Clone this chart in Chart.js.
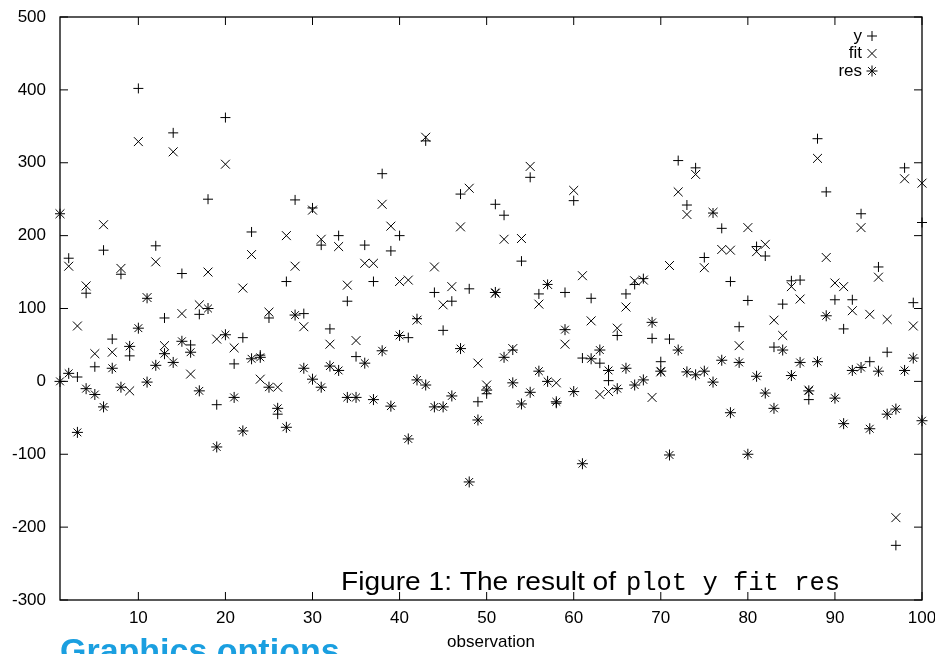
<!DOCTYPE html>
<html>
<head>
<meta charset="utf-8">
<script src="https://cdn.jsdelivr.net/npm/chart.js@4.4.0/dist/chart.umd.min.js"></script>
<style>
    body { margin: 0; background: #fff; }
    #wrap { width: 935px; height: 654px; position: relative; }
</style>
</head>
<body>
<div id="wrap"><canvas id="myChart"></canvas></div>
<script>
// values, observation 1..100
var yValues = [230, 169, 6, 121, 20, 180, 58, 147, 35, 402,
    114, 186, 87, 341, 148, 50, 92, 250, -32, 362,
    24, 60, 205, 36, 87, -45, 137, 249, 93, 238,
    187, 72, 200, 110, 34, 187, 137, 285, 179, 200,
    60, 86, 330, 122, 70, 110, 257, 127, -28, -17,
    243, 228, 43, 165, 280, 120, 133, -30, 122, 248,
    32, 114, 25, 1, 63, 120, 133, 141, 59, 27,
    58, 303, 242, 293, 170, 231, 210, 137, 75, 111,
    185, 172, 47, 106, 138, 139, -25, 333, 260, 112,
    72, 112, 230, 27, 157, 40, -225, 293, 108, 218];
var fitValues = [230, 158, 76, 131, 38, 215, 40, 155, -13, 329,
    115, 164, 49, 315, 93, 10, 105, 150, 58, 298,
    46, 128, 174, 3, 95, -8, 200, 158, 75, 235,
    195, 51, 185, 132, 56, 162, 162, 243, 213, 137,
    139, 84, 335, 157, 105, 130, 212, 265, 25, -5,
    121, 195, 45, 196, 295, 106, 133, -2, 51, 262,
    145, 83, -18, -14, 73, 102, 138, 139, -22, 13,
    159, 260, 229, 284, 156, 232, 181, 180, 49, 211,
    178, 188, 84, 63, 130, 113, -12, 306, 170, 135,
    130, 97, 211, 92, 143, 85, -187, 278, 76, 272];
var resValues = [0, 11, -70, -10, -18, -35, 18, -8, 48, 73,
    -1, 22, 38, 26, 55, 40, -13, 100, -90, 64,
    -22, -68, 31, 33, -8, -37, -63, 91, 18, 3,
    -8, 21, 15, -22, -22, 25, -25, 42, -34, 63,
    -79, 2, -5, -35, -35, -20, 45, -138, -53, -12,
    122, 33, -2, -31, -15, 14, 0, -28, 71, -14,
    -113, 31, 43, 15, -10, 18, -5, 2, 81, 14,
    -101, 43, 13, 9, 14, -1, 29, -43, 26, -100,
    7, -16, -37, 43, 8, 26, -13, 27, 90, -23,
    -58, 15, 19, -65, 14, -45, -38, 15, 32, -54];
var seriesNames = ["y", "fit", "res"];
var xTicks = [10, 20, 30, 40, 50, 60, 70, 80, 90, 100];
var yTicks = [-300, -200, -100, 0, 100, 200, 300, 400, 500];
var xTitle = "observation";
var captionText = "Figure 1: The result of";
var captionCode = "plot y fit res";
var headingText = "Graphics options";

function toPoints(values) {
    var pts = [];
    for (var i = 0; i < values.length; i++) {
        pts.push({ x: i + 1, y: values[i] });
    }
    return pts;
}

function drawMarker(ctx, ds, x, y) {
    if (Chart.helpers && Chart.helpers.drawPoint) {
        Chart.helpers.drawPoint(ctx, {
            pointStyle: ds.pointStyle,
            radius: ds.pointRadius,
            rotation: 0,
            borderWidth: 1
        }, x, y);
    }
}

var gnuplotFrame = {
    id: 'gnuplotFrame',
    afterDraw: function (chart) {
        var ctx = chart.ctx;
        var a = chart.chartArea;
        var sx = chart.scales.x;
        var sy = chart.scales.y;
        ctx.save();
        ctx.strokeStyle = '#000';
        ctx.fillStyle = '#000';
        ctx.lineWidth = 1.3;
        ctx.strokeRect(a.left, a.top, a.right - a.left, a.bottom - a.top);

        // inward ticks, mirrored on top and right
        ctx.lineWidth = 1;
        ctx.beginPath();
        yTicks.forEach(function (v) {
            var p = sy.getPixelForValue(v);
            ctx.moveTo(a.left, p); ctx.lineTo(a.left + 8, p);
            ctx.moveTo(a.right, p); ctx.lineTo(a.right - 8, p);
        });
        xTicks.forEach(function (v) {
            var p = sx.getPixelForValue(v);
            ctx.moveTo(p, a.bottom); ctx.lineTo(p, a.bottom - 8);
            ctx.moveTo(p, a.top); ctx.lineTo(p, a.top + 8);
        });
        ctx.stroke();

        ctx.font = '17px "Liberation Sans", Arial, sans-serif';
        ctx.textAlign = 'right';
        ctx.textBaseline = 'middle';
        yTicks.forEach(function (v) {
            ctx.fillText(String(v), a.left - 14, sy.getPixelForValue(v));
        });
        ctx.textAlign = 'center';
        xTicks.forEach(function (v) {
            ctx.fillText(String(v), sx.getPixelForValue(v), a.bottom + 18);
        });
        ctx.fillText(xTitle, (a.left + a.right) / 2, a.bottom + 42);

        // key, text right aligned with the marker after it
        ctx.textAlign = 'right';
        chart.data.datasets.forEach(function (ds, i) {
            var ky = a.top + 19 + i * 17.5;
            ctx.fillText(ds.label, a.right - 60, ky);
            drawMarker(ctx, ds, a.right - 50, ky);
        });

        // caption of the document page
        ctx.textAlign = 'left';
        ctx.textBaseline = 'alphabetic';
        ctx.font = '26px "Liberation Sans", Arial, sans-serif';
        var w1 = ctx.measureText(captionText).width;
        ctx.save();
        ctx.translate(341, 590);
        ctx.scale(275 / w1, 1);
        ctx.fillText(captionText, 0, 0);
        ctx.restore();
        ctx.font = '25px "Liberation Mono", monospace';
        var w2 = ctx.measureText(captionCode).width;
        ctx.save();
        ctx.translate(626, 590);
        ctx.scale(214 / w2, 1);
        ctx.fillText(captionCode, 0, 0);
        ctx.restore();

        ctx.fillStyle = '#1a9fe0';
        ctx.font = 'bold 34px "Liberation Sans", Arial, sans-serif';
        ctx.fillText(headingText, 60, 662);
        ctx.restore();
    }
};

function veBieuDo() {
    var styles = [
        { pointStyle: 'cross', pointRadius: 5 },
        { pointStyle: 'crossRot', pointRadius: 6.3 },
        { pointStyle: 'star', pointRadius: 5.5 }
    ];
    var all = [yValues, fitValues, resValues];
    var datasets = [];
    for (var i = 0; i < all.length; i++) {
        datasets.push({
            label: seriesNames[i],
            data: toPoints(all[i]),
            pointStyle: styles[i].pointStyle,
            pointRadius: styles[i].pointRadius,
            pointBorderWidth: 1,
            borderColor: '#000',
            backgroundColor: '#000',
            pointBorderColor: '#000',
            clip: false
        });
    }
    new Chart("myChart", {
        type: "scatter",
        data: { datasets: datasets },
        plugins: [gnuplotFrame],
        options: {
            responsive: true,
            maintainAspectRatio: false,
            animation: false,
            layout: { padding: { left: 60, right: 13, top: 17, bottom: 54 } },
            plugins: {
                legend: { display: false },
                tooltip: { enabled: false }
            },
            scales: {
                x: { type: 'linear', min: 1, max: 100, display: false },
                y: { type: 'linear', min: -300, max: 500, display: false }
            }
        }
    });
}

veBieuDo();
</script>
</body>
</html>
